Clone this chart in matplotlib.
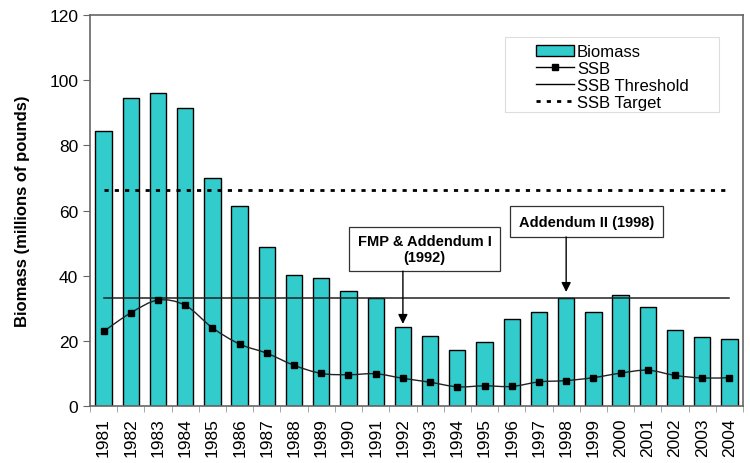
import numpy as np
import matplotlib.pyplot as plt
from matplotlib.path import Path
from matplotlib.patches import PathPatch, Patch, Rectangle
from matplotlib.lines import Line2D

plt.rcParams['font.family'] = ['Liberation Sans', 'DejaVu Sans']

years = [str(y) for y in range(1981, 2005)]
biomass = [84.4, 94.5, 96.0, 91.6, 70.1, 61.4, 48.9, 40.2, 39.3, 35.2, 33.1, 24.1,
           21.6, 17.3, 19.5, 26.7, 28.9, 33.0, 29.0, 34.2, 30.5, 23.4, 21.1, 20.6]
ssb = [22.9, 28.6, 32.5, 30.9, 24.0, 19.0, 16.2, 12.5, 10.0, 9.6, 9.9, 8.5,
       7.3, 5.9, 6.2, 6.0, 7.4, 7.8, 8.7, 10.1, 11.0, 9.4, 8.6, 8.7]
ssb_threshold = 33.1
ssb_target = 66.4

fig = plt.figure(figsize=(7.5, 4.64), dpi=100)
ax = fig.add_axes([0.12, 0.1228, 0.8707, 0.8427])

x = np.arange(len(years))
ax.bar(x, biomass, width=0.6, color='#33CCCC', edgecolor='black', linewidth=1, zorder=2)

# smoothed SSB line (catmull-rom as bezier segments, like Excel's smoothed line)
xs = x.astype(float)
ys = np.array(ssb)
n = len(xs)
verts = [(xs[0], ys[0])]
codes = [Path.MOVETO]
for i in range(n - 1):
    p0 = (xs[max(i - 1, 0)], ys[max(i - 1, 0)])
    p1 = (xs[i], ys[i])
    p2 = (xs[i + 1], ys[i + 1])
    p3 = (xs[min(i + 2, n - 1)], ys[min(i + 2, n - 1)])
    c1 = (p1[0] + (p2[0] - p0[0]) / 6, p1[1] + (p2[1] - p0[1]) / 6)
    c2 = (p2[0] - (p3[0] - p1[0]) / 6, p2[1] - (p3[1] - p1[1]) / 6)
    verts += [c1, c2, p2]
    codes += [Path.CURVE4] * 3
ax.add_patch(PathPatch(Path(verts, codes), facecolor='none', edgecolor='#222222', lw=1, zorder=3))
ax.plot(x, ssb, linestyle='none', marker='s', markersize=5, color='black', zorder=4)

ax.plot([x[0], x[-1]], [ssb_threshold] * 2, color='#222222', lw=1.1, zorder=3)
ax.plot([x[0], x[-1]], [ssb_target] * 2, color='black', lw=2, dashes=(1.5, 2.2), zorder=3)

ax.set_xlim(-0.5, len(years) - 0.5)
ax.set_ylim(0, 120)
ax.set_yticks(range(0, 121, 20))
ax.set_xticks(x)
ax.set_xticklabels(years, rotation=90, fontsize=12.5)
ax.set_xticks(np.arange(-0.5, len(years), 1), minor=True)
ax.tick_params(axis='x', which='major', length=0, pad=8)
ax.tick_params(axis='x', which='minor', length=4, color='#999999')
ax.tick_params(axis='y', labelsize=12.5, length=5, color='#666666')
ax.set_ylabel('Biomass (millions of pounds)', fontsize=12, fontweight='bold', labelpad=14)
for s in ax.spines.values():
    s.set_color('#666666')
    s.set_linewidth(1.2)

# annotation boxes and arrows
ax.add_patch(Rectangle((9.02, 41.4), 5.56, 13.5, fc='white', ec='#333333', lw=0.9, zorder=5))
ax.text(11.8, 48.1, 'FMP & Addendum I\n(1992)', ha='center', va='center', fontsize=10.5,
        fontweight='bold', linespacing=1.15, zorder=6)
ax.annotate('', xy=(11, 25.2), xytext=(11, 41.4),
            arrowprops=dict(arrowstyle='-|>', color='black', lw=1, mutation_scale=14,
                            shrinkA=0, shrinkB=0), zorder=6)
ax.add_patch(Rectangle((14.94, 51.9), 5.63, 9.5, fc='white', ec='#333333', lw=0.9, zorder=5))
ax.text(17.76, 56.6, 'Addendum II (1998)', ha='center', va='center', fontsize=10.5,
        fontweight='bold', zorder=6)
ax.annotate('', xy=(17, 35.0), xytext=(17, 51.9),
            arrowprops=dict(arrowstyle='-|>', color='black', lw=1, mutation_scale=14,
                            shrinkA=0, shrinkB=0), zorder=6)

# legend with an Excel-like wide frame
ax.add_patch(Rectangle((0.6355, 0.752), 0.3277, 0.192, transform=ax.transAxes,
                       fc='white', ec='#dddddd', lw=0.8, zorder=5))
handles = [Patch(facecolor='#33CCCC', edgecolor='black'),
           Line2D([], [], color='black', lw=1, marker='s', markersize=5),
           Line2D([], [], color='black', lw=1),
           Line2D([], [], color='black', lw=2, dashes=(1.5, 2.2))]
leg = ax.legend(handles, ['Biomass', 'SSB', 'SSB Threshold', 'SSB Target'],
                loc='upper left', bbox_to_anchor=(0.683, 0.925), fontsize=12,
                frameon=False, handlelength=2.3, handletextpad=0.15,
                labelspacing=0.11, borderpad=0, borderaxespad=0)
leg.set_zorder(6)

fig.savefig('out.png', dpi=100)
